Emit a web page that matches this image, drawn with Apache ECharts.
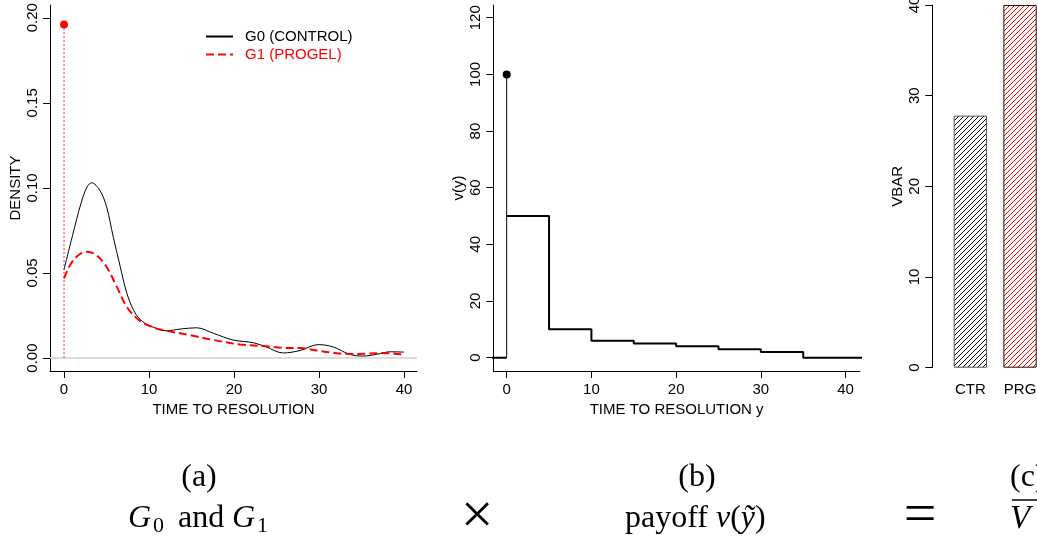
<!DOCTYPE html>
<html>
<head>
<meta charset="utf-8">
<script src="https://cdn.jsdelivr.net/npm/echarts@6/dist/echarts.min.js"></script>
<style>
html,body{margin:0;padding:0;background:#fff;}
#chart{width:1037px;height:537px;}
</style>
</head>
<body>
<div id="chart"></div>
<script>
// ---------- data ----------
const densityX0 = [0, 1.0, 2.0, 2.7, 3.25, 4.2, 5.0, 5.8, 6.6, 7.4, 8.2, 9.0, 10.1, 12.1, 13.6, 15.6, 17.6, 19.9, 22.3, 23.8, 25.8, 27.8, 29.9, 31.7, 33.6, 35.2, 36.8, 38.4, 40];
const densityY0 = [0.052, 0.072, 0.091, 0.1005, 0.103, 0.0987, 0.089, 0.071, 0.054, 0.038, 0.028, 0.0225, 0.019, 0.016, 0.017, 0.0178, 0.0145, 0.0106, 0.009, 0.0065, 0.003, 0.0045, 0.0079, 0.0065, 0.0022, 0.0012, 0.0022, 0.0037, 0.0035];
const densityX1 = [0, 1.1, 2.7, 3.8, 5.0, 6.2, 7.4, 8.9, 10.5, 12.1, 14.8, 17.6, 20.7, 23.8, 25.8, 27.8, 29.7, 31.7, 33.6, 35.6, 37.6, 40];
const densityY1 = [0.0468, 0.0576, 0.0625, 0.0605, 0.0537, 0.042, 0.030, 0.022, 0.018, 0.016, 0.0135, 0.0106, 0.008, 0.0069, 0.006, 0.0059, 0.0045, 0.0031, 0.0024, 0.0026, 0.003, 0.002];
const pointMassX = 0;
const pointMassG1 = 0.196;

const payoffNegX = [-5, 0];
const payoffNegV = [0, 0];
const payoffBreaks = [0, 5, 10, 15, 20, 25, 30, 35, 45];
const payoffValues = [50, 10, 6, 5, 4, 3, 2, 0, 0];
const payoffAtZero = 100;

const barCategories = ['CTR', 'PRG'];
const barValues = [27.8, 40];

const densityTicks = [0, 0.05, 0.1, 0.15, 0.2];
const timeTicks = [0, 10, 20, 30, 40];
const payoffTicks = [0, 20, 40, 60, 80, 100, 120];
const vbarTicks = [0, 10, 20, 30, 40];

const legendNames = ['G0 (CONTROL)', 'G1 (PROGEL)'];

// ---------- helpers ----------
const SANS = 'Liberation Sans, Arial, sans-serif';
const SERIF = 'Liberation Serif, Times New Roman, serif';
const zip = (xs, ys) => xs.map((x, i) => [x, ys[i]]);

function hatch(color) {
  const s = 5;
  const c = document.createElement('canvas');
  c.width = s; c.height = s;
  const g = c.getContext('2d');
  g.fillStyle = '#fff';
  g.fillRect(0, 0, s, s);
  g.strokeStyle = color;
  g.lineWidth = 1;
  for (const k of [-1, 0, 1]) {
    g.beginPath();
    g.moveTo(k * s, s);
    g.lineTo(k * s + s, 0);
    g.stroke();
  }
  return c;
}

function valueX(gridIndex, min, max, name) {
  return {
    gridIndex, type: 'value', min, max,
    axisLine: { show: true, onZero: false, lineStyle: { color: '#000', width: 1 } },
    axisTick: { show: true, inside: false, length: 7, customValues: timeTicks, lineStyle: { color: '#000', width: 1 } },
    axisLabel: { show: true, customValues: timeTicks, margin: 11, fontSize: 15, fontFamily: SANS, color: '#000' },
    splitLine: { show: false },
    name, nameLocation: 'middle', nameGap: 28,
    nameTextStyle: { fontSize: 15, fontFamily: SANS, color: '#000' }
  };
}

function valueY(gridIndex, min, max, ticks, fmt, name) {
  return {
    gridIndex, type: 'value', min, max,
    axisLine: { show: true, onZero: false, lineStyle: { color: '#000', width: 1 } },
    axisTick: { show: true, inside: false, length: 7, customValues: ticks, lineStyle: { color: '#000', width: 1 } },
    axisLabel: { show: true, customValues: ticks, rotate: 90, margin: 10, fontSize: 15, fontFamily: SANS, color: '#000', formatter: fmt },
    splitLine: { show: false },
    name, nameLocation: 'middle', nameGap: 27, nameRotate: 90,
    nameTextStyle: { fontSize: 15, fontFamily: SANS, color: '#000' }
  };
}

const chart = echarts.init(document.getElementById('chart'), null, { renderer: 'canvas' });

const txt = (text, x, y, size, opts = {}) => ({
  type: 'text', x, y, silent: true,
  style: Object.assign({ text, font: (opts.italic ? 'italic ' : '') + size + 'px ' + (opts.family || SERIF), fill: '#000', align: opts.align || 'left', verticalAlign: 'middle' })
});

const option = {
  animation: false,
  backgroundColor: '#fff',
  grid: [
    { left: 50, right: 1037 - 417, top: 5, bottom: 537 - 371, containLabel: false, outerBoundsMode: 'none' },
    { left: 493.3, right: 1037 - 860, top: 5, bottom: 537 - 371, containLabel: false, outerBoundsMode: 'none' },
    { left: 945.5, right: -7.9, top: 5, bottom: 537 - 367.7, containLabel: false, outerBoundsMode: 'none' }
  ],
  legend: {
    data: [
      { name: legendNames[0], textStyle: { color: '#000' } },
      { name: legendNames[1], textStyle: { color: '#ff0000' } }
    ],
    orient: 'vertical', left: 205, top: 29, padding: 0,
    itemWidth: 27, itemHeight: 14, itemGap: 3,
    itemStyle: { opacity: 0 },
    textStyle: { fontSize: 15, fontFamily: SANS, padding: [0, 0, 0, 7] },
    selectedMode: false
  },
  xAxis: [
    valueX(0, -1.65, 41.53, 'TIME TO RESOLUTION'),
    valueX(1, -1.58, 41.7, 'TIME TO RESOLUTION y'),
    {
      gridIndex: 2, type: 'category', data: barCategories,
      axisLine: { show: false }, axisTick: { show: false },
      axisLabel: { margin: 15, fontSize: 15, fontFamily: SANS, color: '#000' },
      splitLine: { show: false }
    }
  ],
  yAxis: [
    valueY(0, -0.0076, 0.2075, densityTicks, v => v.toFixed(2), 'DENSITY'),
    valueY(1, -4.7, 124.5, payoffTicks, v => String(v), 'v(y)'),
    Object.assign(valueY(2, 0, 40, vbarTicks, v => String(v), 'VBAR'), { interval: 10, offset: 13.2 })
  ],
  series: [
    {
      name: legendNames[0], type: 'line', xAxisIndex: 0, yAxisIndex: 0,
      data: zip(densityX0, densityY0), smooth: 0.35, showSymbol: false, symbol: 'none',
      lineStyle: { color: '#000', width: 1 }, itemStyle: { color: '#000' },
      z: 3,
      markLine: {
        silent: true, symbol: 'none', label: { show: false },
        lineStyle: { color: '#d0d0d0', type: 'solid', width: 1.5 },
        data: [{ yAxis: 0 }], z: 1
      }
    },
    {
      name: legendNames[1], type: 'line', xAxisIndex: 0, yAxisIndex: 0,
      data: zip(densityX1, densityY1), smooth: 0.35, showSymbol: false, symbol: 'none',
      lineStyle: { color: '#ff0000', width: 2, type: [8, 4] }, itemStyle: { color: '#ff0000' },
      z: 4
    },
    {
      name: 'pointmass', type: 'line', xAxisIndex: 0, yAxisIndex: 0,
      data: [[pointMassX, 0], [pointMassX, pointMassG1]], showSymbol: false, symbol: 'none',
      lineStyle: { color: '#ff3030', width: 1, type: [2, 2] }, z: 2
    },
    {
      name: 'pointmassDot', type: 'scatter', xAxisIndex: 0, yAxisIndex: 0,
      data: [[pointMassX, pointMassG1]], symbolSize: 8, itemStyle: { color: '#ff0000', opacity: 1 }, z: 5
    },
    {
      name: 'payoffNeg', type: 'line', xAxisIndex: 1, yAxisIndex: 1,
      data: zip(payoffNegX, payoffNegV), showSymbol: false, symbol: 'none', clip: true,
      lineStyle: { color: '#000', width: 2 }
    },
    {
      name: 'payoffStep', type: 'line', xAxisIndex: 1, yAxisIndex: 1, step: 'end',
      data: zip(payoffBreaks, payoffValues), showSymbol: false, symbol: 'none', clip: true,
      lineStyle: { color: '#000', width: 2 }
    },
    {
      name: 'payoffZeroSpike', type: 'line', xAxisIndex: 1, yAxisIndex: 1,
      data: [[0, 0], [0, payoffAtZero]], showSymbol: false, symbol: 'none',
      lineStyle: { color: '#000', width: 1 }
    },
    {
      name: 'payoffZeroDot', type: 'scatter', xAxisIndex: 1, yAxisIndex: 1,
      data: [[0, payoffAtZero]], symbolSize: 8, itemStyle: { color: '#000', opacity: 1 }
    },
    {
      name: 'vbar', type: 'bar', xAxisIndex: 2, yAxisIndex: 2, barWidth: 33.3,
      data: [
        { value: barValues[0], itemStyle: { color: { image: hatch('#000'), repeat: 'repeat' }, borderColor: '#555', borderWidth: 1 } },
        { value: barValues[1], itemStyle: { color: { image: hatch('#ff0000'), repeat: 'repeat' }, borderColor: '#111', borderWidth: 1 } }
      ]
    }
  ],
  graphic: [
    txt('(a)', 199, 478, 32, { align: 'center' }),
    txt('G', 128, 519, 32, { italic: true }),
    txt('0', 153, 526, 22),
    txt('and', 178, 519, 32),
    txt('G', 232, 519, 32, { italic: true }),
    txt('1', 257, 526, 22),
    txt('\u00D7', 477, 518, 58, { align: 'center' }),
    txt('(b)', 697, 478, 32, { align: 'center' }),
    {
      type: 'text', x: 625, y: 519, silent: true,
      style: {
        text: '{r|payoff }{i|v}{r|(}{i|\u1EF9}{r|)}',
        align: 'left', verticalAlign: 'middle', fill: '#000',
        rich: {
          r: { fontFamily: SERIF, fontSize: 32, fill: '#000' },
          i: { fontFamily: SERIF, fontSize: 32, fontStyle: 'italic', fill: '#000' }
        }
      }
    },
    txt('=', 920, 517, 58, { align: 'center' }),
    txt('(c)', 1010, 478, 32),
    txt('V', 1010, 519, 33, { italic: true }),
    { type: 'line', silent: true, shape: { x1: 1012, y1: 500, x2: 1045, y2: 500 }, style: { stroke: '#000', lineWidth: 1.5 } }
  ]
};

chart.setOption(option);
</script>
</body>
</html>
